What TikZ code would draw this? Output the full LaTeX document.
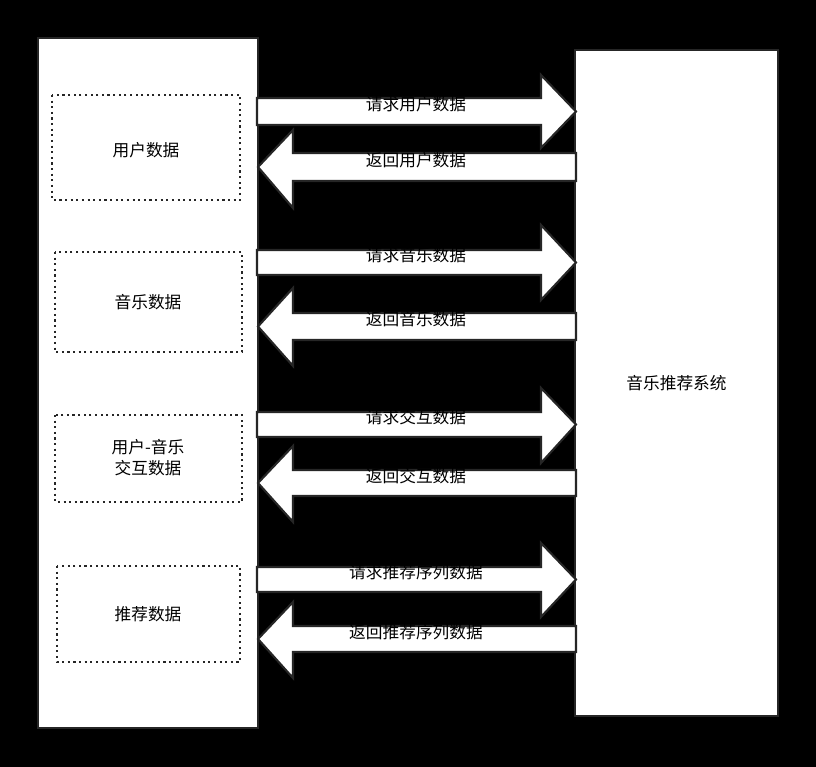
\documentclass[tikz,border=0pt]{standalone}
\usepackage{fontspec}
\setmainfont{Noto Sans CJK SC}
\begin{document}
\begin{tikzpicture}[x=0.02cm, y=-0.02cm,
    sysbox/.style={draw=black!85, line width=1.2pt, fill=white},
    databox/.style={draw=black!85, line width=1.2pt, dotted},
    blockarrow/.style={draw=black!85, line width=1.2pt, fill=white},
    txt/.style={font=\fontsize{9.5}{12}\selectfont, align=center}
]
% background
\fill[black] (0,0) rectangle (816,767);
\useasboundingbox (0,0) rectangle (816,767);

% main boxes
\draw[sysbox] (38,38) rectangle (258,728);
\draw[sysbox] (575,50) rectangle (778,716);
\node[txt] (sys) at (676.5,383) {音乐推荐系统};

% data boxes
\draw[databox] (52,95) rectangle (240,200);
\node[txt] (user) at (146,150) {用户数据};
\draw[databox] (55,252) rectangle (242,352);
\node[txt] (music) at (148,302) {音乐数据};
\draw[databox] (55,415) rectangle (242,502);
\node[txt] (inter) at (148,458) {用户-音乐\\交互数据};
\draw[databox] (57,566) rectangle (240,662);
\node[txt] (rec) at (148,614) {推荐数据};

% request arrows (left to right): shaft top, shaft bottom, head top, head bottom, label
\foreach \st/\sb/\ht/\hb/\lab in {98/125/75/148/请求用户数据,
    250/275/225/300/请求音乐数据,
    412/437/388/463/请求交互数据,
    567/592/543/617/请求推荐序列数据} {
  \draw[blockarrow] (257,\st) -- (541,\st) -- (541,\ht) -- (576,{(\st+\sb)/2})
      -- (541,\hb) -- (541,\sb) -- (257,\sb) -- cycle;
  \node[txt] at (416,{(\st+\sb)/2}) {\lab};
}
% reply arrows (right to left)
\foreach \st/\sb/\ht/\hb/\lab in {153/181/130/208/返回用户数据,
    313/340/288/366/返回音乐数据,
    470/496/446/522/返回交互数据,
    626/652/602/678/返回推荐序列数据} {
  \draw[blockarrow] (576,\st) -- (293,\st) -- (293,\ht) -- (258,{(\st+\sb)/2})
      -- (293,\hb) -- (293,\sb) -- (576,\sb) -- cycle;
  \node[txt] at (416,{(\st+\sb)/2}) {\lab};
}
\end{tikzpicture}
\end{document}
